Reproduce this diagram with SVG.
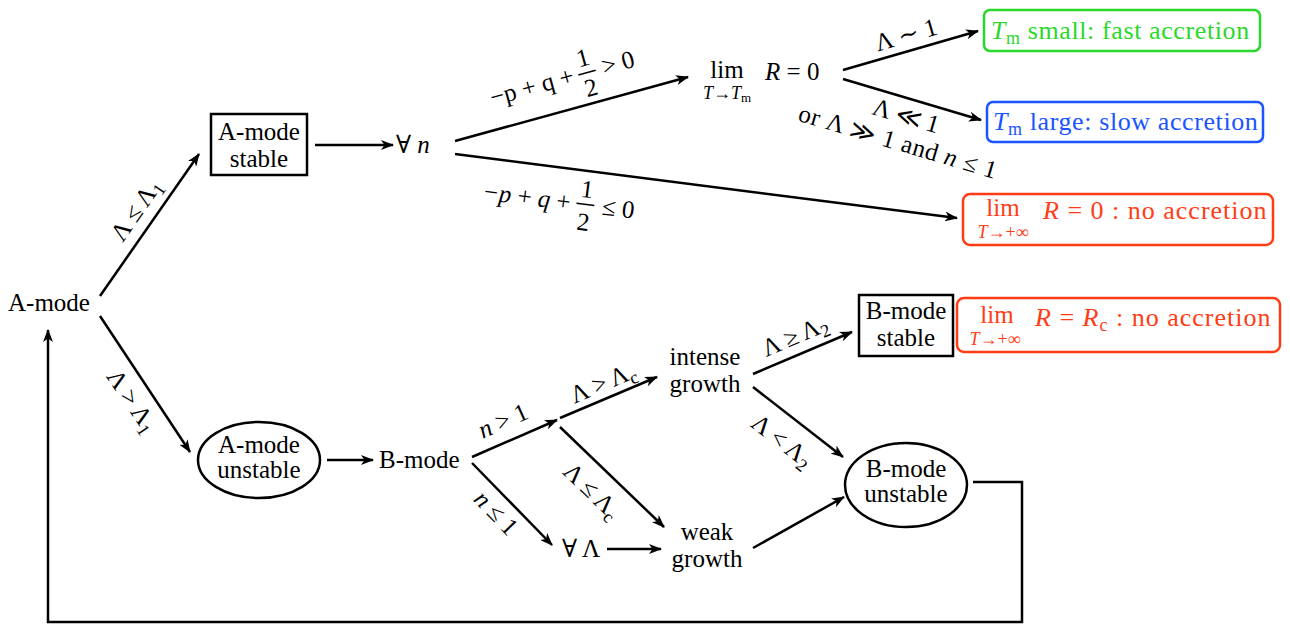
<svg xmlns="http://www.w3.org/2000/svg" width="1290" height="625" viewBox="0 0 1290 625" font-family="'Liberation Serif','DejaVu Serif',serif">
<defs>
<marker id="arr" viewBox="0 0 13 10" refX="12" refY="5" markerWidth="13" markerHeight="10" markerUnits="userSpaceOnUse" orient="auto">
<path d="M0,0 L13,5 L0,10 L3.5,5 Z" fill="#000"/>
</marker>
<style>
text{font-family:'Liberation Serif','DejaVu Serif',serif;font-size:25px;fill:#000}
.c{text-anchor:middle}
.i{font-style:italic}
.s{font-size:18px}
.ss{font-size:18px}
.w{font-size:26px;letter-spacing:0.6px}
.a{stroke:#000;stroke-width:2.5;fill:none;marker-end:url(#arr)}
.box{stroke:#000;stroke-width:2.5;fill:#fff}
.g{fill:#2ad82a}
.b{fill:#1a55ff}
.r{fill:#ff3c14}
</style>
</defs>
<rect width="1290" height="625" fill="#fff"/>

<g id="connectors">
<line class="a" x1="100" y1="296" x2="199" y2="154"/>
<line class="a" x1="100" y1="316" x2="190" y2="452"/>
<line class="a" x1="315" y1="145" x2="393" y2="145"/>
<line class="a" x1="455" y1="141" x2="688" y2="77"/>
<line class="a" x1="455" y1="154" x2="957" y2="218"/>
<line class="a" x1="843" y1="70" x2="978" y2="31"/>
<line class="a" x1="843" y1="79" x2="981" y2="120"/>
<line class="a" x1="327" y1="460" x2="373" y2="460"/>
<line class="a" x1="472" y1="457" x2="557" y2="420"/>
<line class="a" x1="560" y1="418" x2="657" y2="377"/>
<line class="a" x1="560" y1="427" x2="664" y2="527"/>
<line class="a" x1="472" y1="463" x2="552" y2="545"/>
<line class="a" x1="607" y1="549" x2="661" y2="549"/>
<line class="a" x1="753" y1="374" x2="852" y2="332"/>
<line class="a" x1="753" y1="387" x2="843" y2="457"/>
<line class="a" x1="753" y1="548" x2="844" y2="497"/>
<polyline class="a" points="973,482 1022,482 1022,622 48,622 48,330"/>
</g>

<g id="labels">
<g transform="translate(136,210) rotate(-55)"><text class="c" y="8">Λ ≤ Λ<tspan class="s" dy="5">1</tspan></text></g>
<g transform="translate(132,401) rotate(56)"><text class="c" y="8">Λ &gt; Λ<tspan class="s" dy="5">1</tspan></text></g>
<g transform="translate(560,80) rotate(-15.4)">
<text x="14" y="7" style="text-anchor:end">−p + q +</text>
<text class="c" x="28" y="-7">1</text>
<line x1="19" y1="0" x2="37" y2="0" stroke="#000" stroke-width="1.5"/>
<text class="c" x="28" y="24">2</text>
<text x="44" y="7">&gt; 0</text>
</g>
<g transform="translate(558,206) rotate(7.2)">
<text x="12" y="3" style="text-anchor:end"><tspan class="i">−p</tspan> + <tspan class="i">q</tspan> +</text>
<text class="c" x="27" y="-12">1</text>
<line x1="18" y1="-5" x2="36" y2="-5" stroke="#000" stroke-width="1.5"/>
<text class="c" x="27" y="21">2</text>
<text x="44" y="3">≤ 0</text>
</g>
<g transform="translate(906,35) rotate(-16)"><text class="c" y="8">Λ ∼ 1</text></g>
<g transform="translate(906,116) rotate(16.5)"><text class="c" y="8">Λ ≪ 1</text></g>
<g transform="translate(898,142) rotate(16.5)"><text class="c" y="8" style="letter-spacing:0.6px">or Λ ≫ 1 and <tspan class="i">n</tspan> ≤ 1</text></g>
<g transform="translate(503,421) rotate(-24)"><text class="c" y="8"><tspan class="i">n</tspan> &gt; 1</text></g>
<g transform="translate(603,383) rotate(-23)"><text class="c" y="8">Λ &gt; Λ<tspan class="s" dy="5">c</tspan></text></g>
<g transform="translate(592,491) rotate(44)"><text class="c" y="8">Λ ≤ Λ<tspan class="s" dy="5">c</tspan></text></g>
<g transform="translate(496,513) rotate(46)"><text class="c" y="8"><tspan class="i">n</tspan> ≤ 1</text></g>
<g transform="translate(795,336) rotate(-23)"><text class="c" y="8">Λ ≥ Λ<tspan class="s" dy="5">2</tspan></text></g>
<g transform="translate(782,441) rotate(38)"><text class="c" y="8">Λ &lt; Λ<tspan class="s" dy="5">2</tspan></text></g>
</g>

<g id="amode"><text x="8" y="311">A-mode</text></g>

<g id="amode-stable">
<rect class="box" x="211" y="114" width="96" height="61"/>
<text class="c" x="259" y="140">A-mode</text>
<text class="c" x="259" y="167">stable</text>
</g>

<g id="forall-n"><text x="396" y="153">∀ <tspan class="i">n</tspan></text></g>

<g id="lim-tm">
<text class="c" x="727" y="78">lim</text>
<text class="c ss" x="727" y="99"><tspan class="i">T</tspan>→<tspan class="i">T</tspan><tspan font-size="13" dy="3">m</tspan></text>
<text x="765" y="80"><tspan class="i">R</tspan> = 0</text>
</g>

<g id="tm-small">
<rect x="984" y="10" width="276" height="41" rx="6" fill="#fff" stroke="#2ad82a" stroke-width="2.5"/>
<text class="g w" x="991" y="39"><tspan class="i">T</tspan><tspan class="s" dy="5">m</tspan><tspan dy="-5"> small: fast accretion</tspan></text>
</g>

<g id="tm-large">
<rect x="987" y="102" width="276" height="40" rx="6" fill="#fff" stroke="#1a55ff" stroke-width="2.5"/>
<text class="b w" x="993" y="130"><tspan class="i">T</tspan><tspan class="s" dy="5">m</tspan><tspan dy="-5"> large: slow accretion</tspan></text>
</g>

<g id="no-accretion-1">
<rect x="963" y="194" width="310" height="51" rx="7" fill="#fff" stroke="#ff3c14" stroke-width="2.5"/>
<text class="c r" x="1003" y="216">lim</text>
<text class="c ss r" x="1003" y="238"><tspan class="i">T</tspan>→+∞</text>
<text class="r w" x="1043" y="219" style="letter-spacing:1px"><tspan class="i">R</tspan> = 0 : no accretion</text>
</g>

<g id="amode-unstable">
<ellipse cx="259" cy="460" rx="61" ry="38" fill="#fff" stroke="#000" stroke-width="2.5"/>
<text class="c" x="259" y="453">A-mode</text>
<text class="c" x="259" y="478">unstable</text>
</g>

<g id="bmode"><text x="379" y="468">B-mode</text></g>

<g id="intense"><text class="c" x="705" y="365">intense</text><text class="c" x="705" y="392">growth</text></g>

<g id="forall-lambda"><text x="562" y="557">∀ Λ</text></g>

<g id="weak"><text class="c" x="707" y="540">weak</text><text class="c" x="707" y="567">growth</text></g>

<g id="bmode-stable">
<rect class="box" x="859" y="295" width="94" height="61"/>
<text class="c" x="906" y="319">B-mode</text>
<text class="c" x="906" y="346">stable</text>
</g>

<g id="no-accretion-2">
<rect x="957" y="298" width="323" height="54" rx="7" fill="#fff" stroke="#ff3c14" stroke-width="2.5"/>
<text class="c r" x="997" y="323">lim</text>
<text class="c ss r" x="995" y="345"><tspan class="i">T</tspan>→+∞</text>
<text class="r w" x="1035" y="326" style="letter-spacing:1px"><tspan class="i">R</tspan> = <tspan class="i">R</tspan><tspan class="s" dy="5">c</tspan><tspan dy="-5"> : no accretion</tspan></text>
</g>

<g id="bmode-unstable">
<ellipse cx="906" cy="485" rx="61" ry="42" fill="#fff" stroke="#000" stroke-width="2.5"/>
<text class="c" x="906" y="477">B-mode</text>
<text class="c" x="906" y="502">unstable</text>
</g>
</svg>
